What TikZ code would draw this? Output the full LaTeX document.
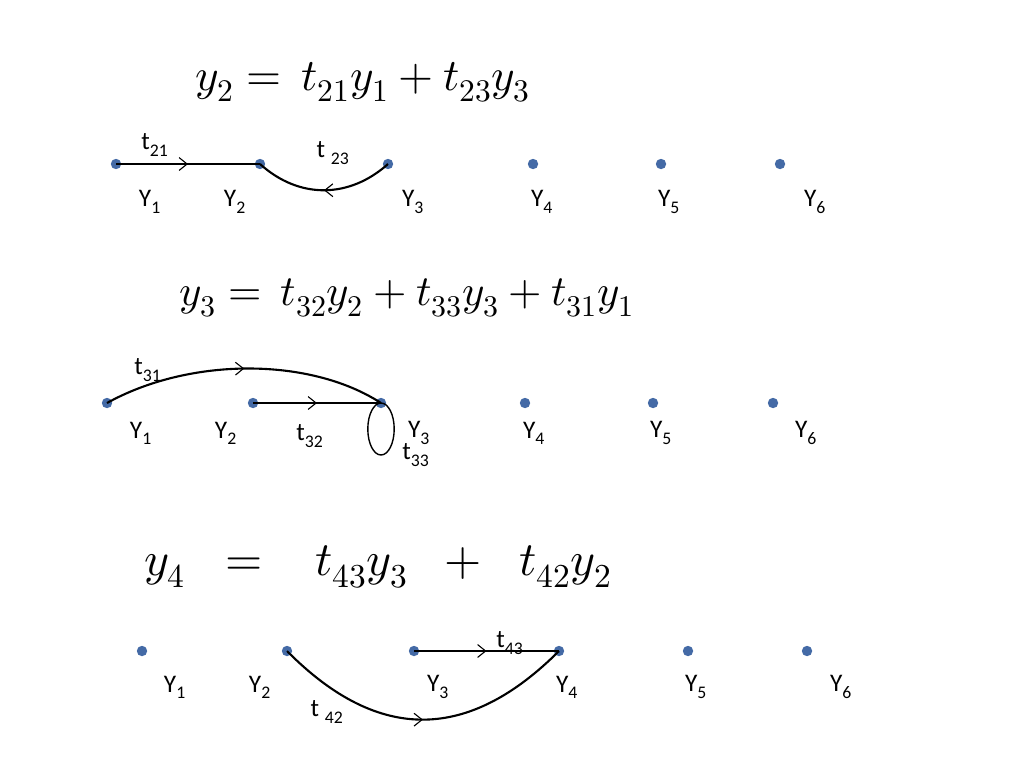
\documentclass[tikz,border=0pt]{standalone}
\usepackage{fontspec}
\usepackage{unicode-math}
\setmainfont{Carlito}
\setmathfont{Latin Modern Math}
\usetikzlibrary{decorations.markings, arrows.meta}

\definecolor{dotblue}{RGB}{68,106,166}

\tikzset{
  pt/.style={circle, fill=dotblue, inner sep=0pt, minimum size=2.6mm},
  lbl/.style={font=\fontsize{18}{20}\selectfont},
  eqn/.style={font=\fontsize{32}{38}\selectfont},
  branch/.style={line width=1.5pt},
  midarrow/.style={decoration={markings, mark=at position 0.5 with {\arrow[line width=0.8pt]{Straight Barb[length=2mm, width=3.2mm]}}}, postaction={decorate}}
}

\begin{document}
\begin{tikzpicture}[x=0.25mm, y=-0.25mm]
\useasboundingbox (0,0) rectangle (1024,768);

% equations
\node[eqn] (eqa) at (363,82) {$y_2 = \,t_{21}y_1 + t_{23}y_3$};
\node[eqn, font=\fontsize{30.5}{36}\selectfont] (eqb) at (407,298) {$y_3 = \,t_{32}y_2 + t_{33}y_3 + t_{31}y_1$};
\node[eqn, font=\fontsize{34}{40}\selectfont] (eqc) at (378,567) {$y_4 \;\;=\;\;\; t_{43}y_3 \;\;+\;\; t_{42}y_2$};

% first row
\foreach \n/\x/\lx in {1/116/150, 2/260/235, 3/388/413, 4/533/542, 5/661/669, 6/780/815}
{
  \node[pt] (a\n) at (\x,164) {};
  \node[lbl] (la\n) at (\lx,202) {Y\textsubscript{\n}};
}
\draw[branch, midarrow] (a1.center) -- (a2.center);
\draw[branch, midarrow] (a3.center) .. controls (350,198) and (300,200) .. (a2.center);
\node[lbl] (ta21) at (155,145) {t\textsubscript{21}};
\node[lbl] (ta23) at (333,153) {t \textsubscript{23}};

% second row
\foreach \n/\x/\lx in {1/107/141, 2/253/226, 3/381/419, 4/525/534, 5/653/661, 6/773/806}
{
  \node[pt] (b\n) at (\x,403) {};
  \node[lbl] (lb\n) at (\lx,433) {Y\textsubscript{\n}};
}
\draw[branch, midarrow] (b1.center) .. controls (190,357) and (310,357) .. (b3.center);
\draw[branch, midarrow] (b2.center) -- (b3.center);
\draw[line width=1pt] (b3.center) ++(0,26) ellipse (3.3mm and 6.5mm);
\node[lbl] (tb31) at (148,370) {t\textsubscript{31}};
\node[lbl] (tb32) at (310,436) {t\textsubscript{32}};
\node[lbl] (tb33) at (416,455) {t\textsubscript{33}};

% third row
\foreach \n/\x/\lx in {1/142/175, 2/287/260, 3/414/438, 4/559/567, 5/688/696, 6/807/841}
{
  \node[pt] (c\n) at (\x,651) {};
  \node[lbl] (lc\n) at (\lx,687) {Y\textsubscript{\n}};
}
\draw[branch, midarrow] (c3.center) -- (c4.center);
\draw[branch, midarrow] (c2.center) .. controls (380,745) and (470,740) .. (c4.center);
\node[lbl] (tc43) at (510,643) {t\textsubscript{43}};
\node[lbl] (tc42) at (327,712) {t \textsubscript{42}};
\end{tikzpicture}
\end{document}
